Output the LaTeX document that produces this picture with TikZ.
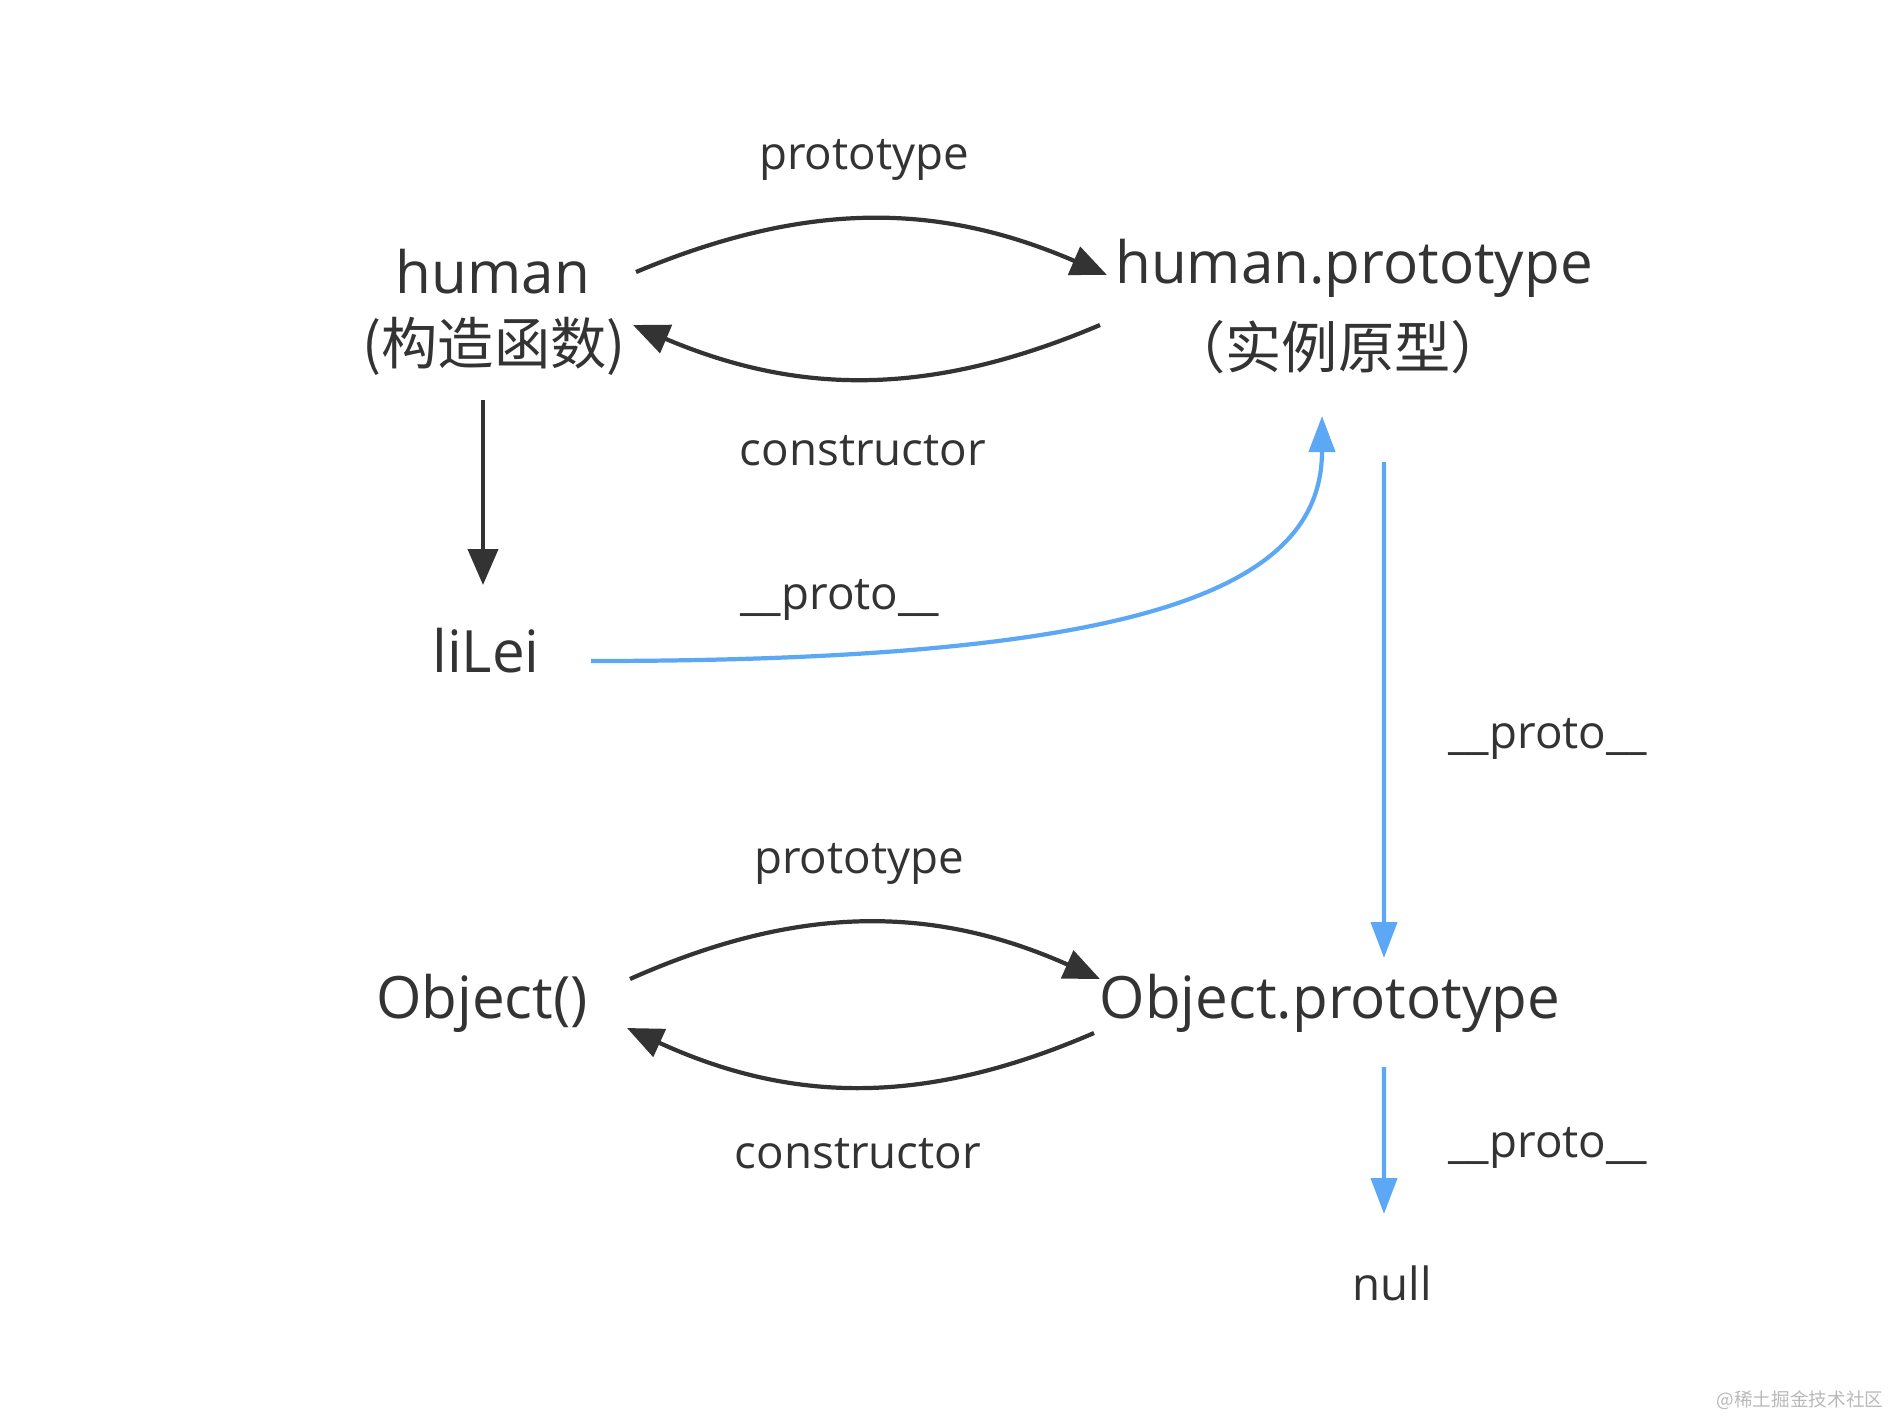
\documentclass[tikz,border=0pt]{standalone}
\usepackage{fontspec}
\setmainfont{Open Sans}
\newfontfamily\cjk{Noto Sans CJK SC}
\usepackage{tikz}
\usetikzlibrary{arrows.meta}
\definecolor{ink}{HTML}{333333}
\definecolor{protoblue}{HTML}{5DA8F5}

\begin{document}
\begin{tikzpicture}[
	objname/.style={text=ink,font=\fontsize{16.6}{20}\selectfont,inner sep=0pt},
	objnamecn/.style={text=ink,font=\cjk\fontsize{16}{19}\selectfont,inner sep=0pt},
	lbl/.style={text=ink,font=\fontsize{13}{16}\selectfont,inner sep=0pt},
	link/.style={ink,line width=1.2pt,-{Triangle[length=3.6mm,width=3mm]}},
	protolink/.style={protoblue,line width=1.2pt,-{Triangle[length=3.6mm,width=2.6mm]}}
	]

	\useasboundingbox (0,0) rectangle (18.9,-14.17);

	% names
	\node[objname] (human) at (4.93,-2.72) {human};
	\node[objnamecn] (humancn) at (4.94,-3.46) {(构造函数)};
	\node[objname] (hproto) at (13.54,-2.68) {human.prototype};
	\node[objnamecn] (hprotocn) at (13.38,-3.47) {（实例原型）};
	\node[objname] (lilei) at (4.86,-6.51) {liLei};
	\node[objname] (object) at (4.82,-10.03) {Object()};
	\node[objname] (oproto) at (13.30,-10.03) {Object.prototype};
	\node[lbl] (null) at (13.92,-12.83) {null};

	% labels
	\node[lbl] (ptop) at (8.64,-1.60) {prototype};
	\node[lbl] (ctop) at (8.63,-4.51) {constructor};
	\node[lbl] (plilei) at (8.40,-6.00) {\_\_proto\_\_};
	\node[lbl] (phproto) at (15.48,-7.39) {\_\_proto\_\_};
	\node[lbl] (pbot) at (8.59,-8.64) {prototype};
	\node[lbl] (cbot) at (8.58,-11.54) {constructor};
	\node[lbl] (poproto) at (15.48,-11.48) {\_\_proto\_\_};
	\node[text=gray!55,font=\cjk\fontsize{5.3}{7}\selectfont,inner sep=0pt,anchor=east] (mark) at (18.84,-14.00) {@稀土掘金技术社区};

	% human <-> human.prototype
	\draw[link] ([xshift=14.3mm]human.center) to[bend left=23] ([shift={(-2.47,-0.07)}]hproto.center); %prototype
	\draw[link] ([shift={(-2.54,-0.57)}]hproto.center) to[bend left=23] ([shift={(1.39,0.21)}]humancn.center); %constructor
	\draw[link] ([shift={(-0.11,-0.54)}]humancn.center) -- ([shift={(-0.03,0.66)}]lilei.center); %new

	% Object() <-> Object.prototype
	\draw[link] ([shift={(1.48,0.24)}]object.center) to[bend left=24] ([shift={(-2.30,0.24)}]oproto.center); %prototype
	\draw[link] ([shift={(-2.36,-0.30)}]oproto.center) to[bend left=24] ([shift={(1.45,-0.25)}]object.center); %constructor

	% proto chain
	\draw[protolink] ([shift={(1.05,-0.10)}]lilei.center) .. controls (11.4,-6.61) and (13.22,-5.9) .. ([shift={(-0.16,-0.69)}]hprotocn.center);
	\draw[protolink] ([shift={(0.46,-1.15)}]hprotocn.center) -- ([shift={(0.54,0.45)}]oproto.center);
	\draw[protolink] ([shift={(0.54,-0.64)}]oproto.center) -- ([shift={(-0.08,0.69)}]null.center);

\end{tikzpicture}
\end{document}
